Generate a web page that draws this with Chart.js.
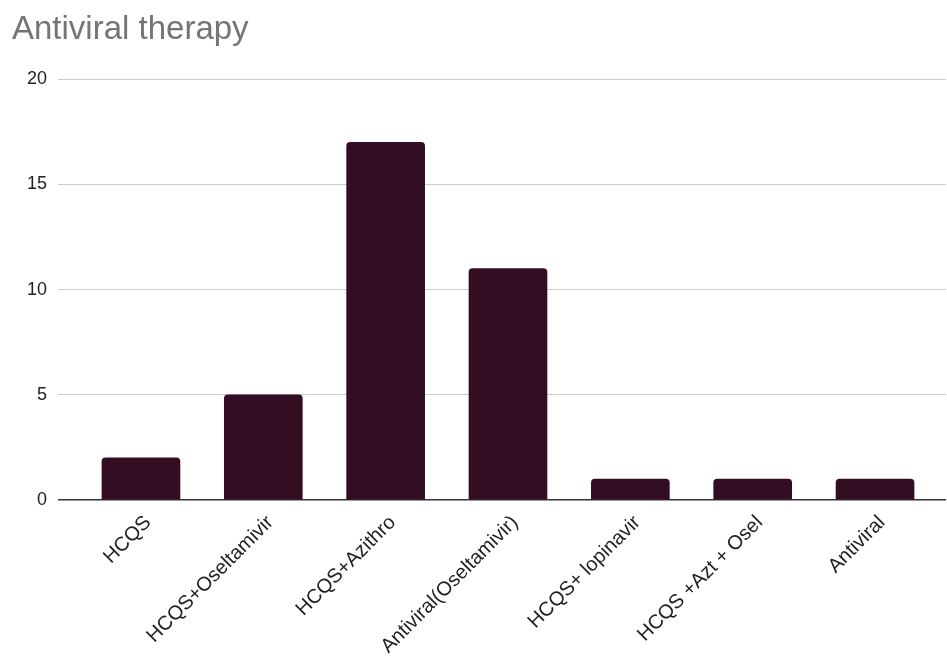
<!DOCTYPE html>
<html>
<head>
<meta charset="utf-8">
<title>Antiviral therapy</title>
<script src="https://cdn.jsdelivr.net/npm/chart.js@4"></script>
<style>
  html, body { margin: 0; padding: 0; background: #fff; }
  canvas { display: block; }
</style>
</head>
<body>
<canvas id="therapyChart" width="947" height="657"></canvas>
<script>
// therapy groups and patient counts
const therapyLabels = ['HCQS', 'HCQS+Oseltamivir', 'HCQS+Azithro', 'Antiviral(Oseltamivir)', 'HCQS+ lopinavir', 'HCQS +Azt + Osel', 'Antiviral'];
const patientCounts = [2, 5, 17, 11, 1, 1, 1];
const yTicks = [0, 5, 10, 15, 20];

const FONT = 'Arial, "Liberation Sans", sans-serif';

const points = patientCounts.map((v, i) => ({ x: i, y: v }));

new Chart(document.getElementById('therapyChart'), {
    type: 'bar',
    data: {
        datasets: [{
            data: points,
            backgroundColor: '#330d22',
            borderRadius: { topLeft: 4, topRight: 4 },
            borderSkipped: 'start',
            barThickness: 78
        }]
    },
    options: {
        responsive: false,
        animation: false,
        layout: { padding: { left: 12, right: 1, top: 0, bottom: 0 } },
        plugins: {
            legend: { display: false },
            tooltip: { enabled: false },
            title: {
                display: true,
                text: 'Antiviral therapy',
                align: 'start',
                color: '#757575',
                font: { family: FONT, size: 33, weight: 'normal' },
                padding: { top: 10, bottom: 29.5 }
            }
        },
        scales: {
            x: {
                type: 'linear',
                offset: false,
                min: -0.678,
                max: 6.58,
                grid: { display: false },
                border: { display: false },
                ticks: {
                    stepSize: 1,
                    includeBounds: false,
                    autoSkip: false,
                    minRotation: 45,
                    maxRotation: 45,
                    padding: 3,
                    labelOffset: 7,
                    color: '#222',
                    font: { family: FONT, size: 20 },
                    callback: v => Number.isInteger(v) ? therapyLabels[v] : ''
                },
                afterFit: scale => { scale.height = 157; }
            },
            y: {
                min: yTicks[0],
                max: yTicks[yTicks.length - 1],
                afterBuildTicks: scale => { scale.ticks = yTicks.map(v => ({ value: v })); },
                grid: {
                    drawTicks: false,
                    color: ctx => ctx.tick && ctx.tick.value === 0 ? '#333' : '#cccccc',
                    lineWidth: ctx => ctx.tick && ctx.tick.value === 0 ? 1.5 : 1
                },
                border: { display: false },
                ticks: {
                    padding: 11,
                    color: '#222',
                    font: { family: FONT, size: 18 }
                },
                afterFit: scale => { scale.width = 46; }
            }
        }
    }
});
</script>
</body>
</html>
